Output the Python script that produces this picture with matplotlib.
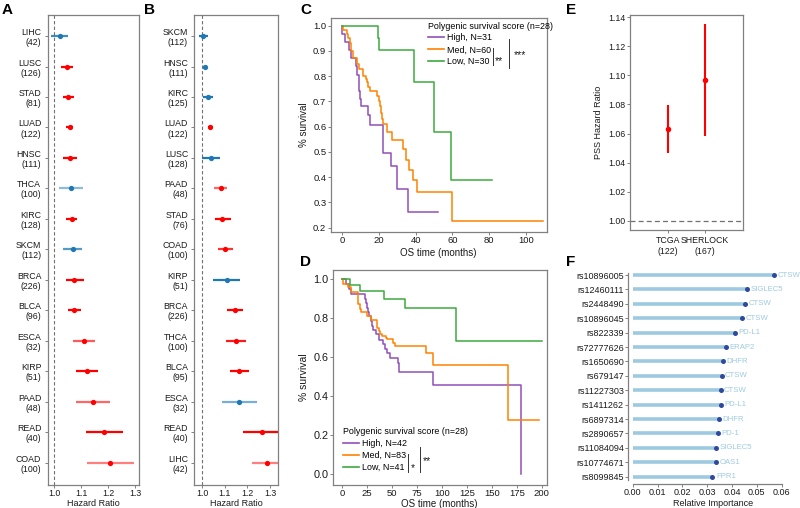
import matplotlib
matplotlib.use('Agg')
import matplotlib.pyplot as plt
from matplotlib.lines import Line2D
import numpy as np

plt.rcParams['font.family'] = ['Liberation Sans', 'DejaVu Sans']

# ---------------- data ----------------
# Panel A
cancers_a = ['LIHC', 'LUSC', 'STAD', 'LUAD', 'HNSC', 'THCA', 'KIRC', 'SKCM',
             'BRCA', 'BLCA', 'ESCA', 'KIRP', 'PAAD', 'READ', 'COAD']
n_a = [42, 126, 81, 122, 111, 100, 128, 112, 226, 96, 32, 51, 48, 40, 100]
hr_a = [1.022, 1.047, 1.053, 1.057, 1.057, 1.063, 1.065, 1.068, 1.075, 1.075,
        1.110, 1.121, 1.143, 1.185, 1.209]
lo_a = [0.989, 1.026, 1.034, 1.044, 1.031, 1.019, 1.044, 1.033, 1.042, 1.053,
        1.069, 1.081, 1.081, 1.119, 1.123]
hi_a = [1.053, 1.071, 1.074, 1.069, 1.084, 1.106, 1.086, 1.102, 1.109, 1.099,
        1.152, 1.162, 1.207, 1.254, 1.296]
sig_a = [False, True, True, True, True, False, True, False, True, True,
         True, True, True, True, True]

# Panel B
cancers_b = ['SKCM', 'HNSC', 'KIRC', 'LUAD', 'LUSC', 'PAAD', 'STAD', 'COAD',
             'KIRP', 'BRCA', 'THCA', 'BLCA', 'ESCA', 'READ', 'LIHC']
n_b = [112, 111, 125, 122, 128, 48, 76, 100, 51, 226, 100, 95, 32, 40, 42]
hr_b = [1.002, 1.013, 1.027, 1.035, 1.037, 1.081, 1.089, 1.102, 1.108, 1.143,
        1.149, 1.162, 1.164, 1.263, 1.285]
lo_b = [0.985, 1.004, 1.004, 1.024, 0.999, 1.052, 1.055, 1.069, 1.049, 1.108,
        1.105, 1.123, 1.087, 1.182, 1.218]
hi_b = [1.024, 1.022, 1.049, 1.049, 1.078, 1.111, 1.126, 1.134, 1.167, 1.179,
        1.193, 1.205, 1.241, 1.345, 1.355]
sig_b = [False, False, False, True, False, True, True, True, False, True,
         True, True, False, True, True]

# Panel C (Kaplan-Meier, step curves)
c_high_t = [0, 0.2, 1.5, 4, 5, 7.5, 8, 9, 9.5, 10, 10.5, 14, 15, 22.5, 26.5, 30, 36, 52]
c_high_s = [1.0, 0.968, 0.935, 0.903, 0.871, 0.839, 0.806, 0.774, 0.742, 0.71,
            0.68, 0.645, 0.605, 0.494, 0.444, 0.352, 0.262, 0.262]
c_med_t = [0, 0.7, 2.5, 3.4, 4.3, 4.9, 5.8, 8.3, 9.4, 11.6, 13, 13.8, 14.3, 15.2,
           19.2, 19.9, 20.7, 21.2, 21.7, 22.5, 24.6, 27.2, 33.3, 34.8, 36.5, 38.4,
           40.5, 60, 109]
c_med_s = [1.0, 0.983, 0.966, 0.95, 0.933, 0.90, 0.87, 0.85, 0.83, 0.80, 0.79,
           0.775, 0.757, 0.74, 0.72, 0.70, 0.68, 0.655, 0.63, 0.61, 0.58, 0.547,
           0.51, 0.47, 0.43, 0.39, 0.34, 0.227, 0.227]
c_low_t = [0, 19.4, 20, 39.3, 49.8, 59, 81.5]
c_low_s = [1.0, 0.95, 0.905, 0.775, 0.58, 0.387, 0.387]
c_labels = ['High, N=31', 'Med, N=60', 'Low, N=30']

# Panel D
d_high_t = [0, 4, 6.7, 8.7, 23, 24, 25.4, 26.4, 27.4, 28.7, 29.7, 31.4, 33.7,
            37.4, 41.4, 43.4, 45.4, 48.1, 56.1, 57.4, 90.8, 179, 179.5]
d_high_s = [1.0, 0.976, 0.952, 0.925, 0.90, 0.88, 0.855, 0.83, 0.81, 0.785,
            0.76, 0.74, 0.72, 0.69, 0.667, 0.64, 0.62, 0.595, 0.57, 0.525, 0.46,
            0.0, 0.0]
d_med_t = [0, 1, 6.3, 8.7, 16.4, 18, 18.7, 25.4, 28.7, 34.7, 35.4, 36.7, 38,
           39.7, 44, 44.7, 51.4, 53, 84.1, 84.8, 91.5, 166.6, 197.7]
d_med_s = [1.0, 0.976, 0.96, 0.935, 0.875, 0.85, 0.83, 0.81, 0.79, 0.77, 0.75,
           0.735, 0.72, 0.71, 0.70, 0.695, 0.675, 0.66, 0.62, 0.62, 0.56, 0.28, 0.28]
d_low_t = [0, 8, 18, 42, 63.4, 113.9, 200.7]
d_low_s = [1.0, 0.97, 0.94, 0.90, 0.855, 0.683, 0.683]
d_labels = ['High, N=42', 'Med, N=83', 'Low, N=41']

# Panel E
cohorts_e = ['TCGA\n(122)', 'SHERLOCK\n(167)']
hr_e = [1.063, 1.0966]
lo_e = [1.0464, 1.0583]
hi_e = [1.0796, 1.1352]

# Panel F
snps_f = ['rs10896005', 'rs12460111', 'rs2448490', 'rs10896045', 'rs822339',
          'rs72777626', 'rs1650690', 'rs679147', 'rs11227303', 'rs1411262',
          'rs6897314', 'rs2890657', 'rs11084094', 'rs10774671', 'rs8099845']
genes_f = ['CTSW', 'SIGLEC5', 'CTSW', 'CTSW', 'PD-L1', 'ERAP2', 'DHFR', 'CTSW',
           'CTSW', 'PD-L1', 'DHFR', 'PD-1', 'SIGLEC5', 'OAS1', 'FPR1']
imp_f = [0.0570, 0.0460, 0.0454, 0.0442, 0.0413, 0.0374, 0.0365, 0.0358,
         0.0354, 0.0354, 0.0346, 0.0345, 0.0337, 0.0336, 0.0321]

# ---------------- styling ----------------
W, H = 800, 508
fig = plt.figure(figsize=(8, 5.08), dpi=100)

SPINE = '#808080'
TXT = '#1a1a1a'
RED = '#FF0000'
BLUE = '#1F78B4'
PURPLE = '#9050B8'
ORANGE = '#FF8200'
GREEN = '#3DAA3D'


def axpx(l, t, r, b):
    return fig.add_axes([l / W, 1 - b / H, (r - l) / W, (b - t) / H])


def style(ax, fs=6.5):
    for s in ax.spines.values():
        s.set_color(SPINE)
        s.set_linewidth(0.9)
    ax.tick_params(colors=SPINE, labelcolor=TXT, labelsize=fs, length=2,
                   width=0.7, pad=1.2)


def forest(ax, names, ns, hr, lo, hi, sig, alphas, xlim):
    y = np.arange(len(names))
    ax.axvline(1.0, color='#707070', lw=0.8, ls=(0, (3, 2)), zorder=1)
    for i in range(len(names)):
        c = RED if sig[i] else BLUE
        ax.hlines(y[i], lo[i], hi[i], color=c, alpha=alphas[i], lw=1.6, zorder=2)
        ax.plot(hr[i], y[i], 'o', color=c, ms=3.8, mec='none', zorder=3)
    ax.set_yticks(y)
    ax.set_yticklabels([f'{a}\n({b})' for a, b in zip(names, ns)],
                       linespacing=1.15)
    ax.set_ylim(14.73, -0.69)
    ax.set_xlim(*xlim)
    ax.set_xticks([1.0, 1.1, 1.2, 1.3])
    ax.set_xticklabels(['1.0', '1.1', '1.2', '1.3'])
    style(ax, 6.3)
    ax.set_xlabel('Hazard Ratio', fontsize=6.5, color=TXT, labelpad=0.5)
    ax.tick_params(axis='y', labelsize=6.3, pad=2.5)


alpha_a = [0.85, 1, 1, 1, 1, 0.5, 1, 0.75, 1, 1, 0.65, 1, 0.6, 1, 0.5]
alpha_b = [1, 1, 1, 1, 1, 0.6, 1, 0.8, 1, 1, 0.9, 1, 0.6, 1, 0.5]

axA = axpx(47.5, 15, 139, 485)
forest(axA, cancers_a, n_a, hr_a, lo_a, hi_a, sig_a, alpha_a, (0.975, 1.315))
axB = axpx(194.3, 15, 278, 485)
forest(axB, cancers_b, n_b, hr_b, lo_b, hi_b, sig_b, alpha_b, (0.965, 1.335))


def km(ax, curves, colors):
    for (t, s), c in zip(curves, colors):
        ax.step(t, s, where='post', color=c, lw=1.1)


def legend_km(ax, labels, anchor, brackets, stars):
    handles = [Line2D([0], [0], color=c, lw=1.2) for c in (PURPLE, ORANGE, GREEN)]
    ax.legend(handles, labels, title='Polygenic survival score (n=28)',
              loc='upper left', bbox_to_anchor=anchor, frameon=False,
              fontsize=6.4, title_fontsize=6.4, handlelength=1.8,
              handletextpad=0.35, labelspacing=0.33, borderpad=0,
              borderaxespad=0, alignment='left')
    for (x, y0, y1) in brackets:
        ax.plot([x, x], [y0, y1], color='#333333', lw=0.7, transform=ax.transAxes,
                clip_on=False)
    for (x, y, s) in stars:
        ax.text(x, y, s, transform=ax.transAxes, fontsize=7.5, color=TXT,
                ha='left', va='center')


# Panel C
axC = axpx(330.7, 18.3, 546.7, 232)
km(axC, [(c_high_t, c_high_s), (c_med_t, c_med_s), (c_low_t, c_low_s)],
   [PURPLE, ORANGE, GREEN])
axC.set_xlim(-6.1, 111.2)
axC.set_ylim(0.183, 1.029)
axC.set_xticks([0, 20, 40, 60, 80, 100])
axC.set_yticks([0.2, 0.3, 0.4, 0.5, 0.6, 0.7, 0.8, 0.9, 1.0])
axC.set_yticklabels([f'{v:.1f}' for v in axC.get_yticks()])
style(axC, 6.8)
axC.set_xlabel('OS time (months)', fontsize=7, color=TXT, labelpad=1.5)
axC.set_ylabel('% survival', fontsize=7, color=TXT, labelpad=3)
legend_km(axC, c_labels, (0.449, 0.985),
          [(0.75, 0.861, 0.781), (0.824, 0.903, 0.767)],
          [(0.762, 0.800, '**'), (0.846, 0.830, '***')])

# Panel D
axD = axpx(332.7, 270, 546.7, 485)
km(axD, [(d_high_t, d_high_s), (d_med_t, d_med_s), (d_low_t, d_low_s)],
   [PURPLE, ORANGE, GREEN])
axD.set_xlim(-9.3, 205)
axD.set_ylim(-0.056, 1.048)
axD.set_xticks([0, 25, 50, 75, 100, 125, 150, 175, 200])
axD.set_yticks([0.0, 0.2, 0.4, 0.6, 0.8, 1.0])
axD.set_yticklabels([f'{v:.1f}' for v in axD.get_yticks()])
style(axD, 6.8)
axD.tick_params(axis='y', labelsize=7.8)
axD.set_xlabel('OS time (months)', fontsize=7, color=TXT, labelpad=0.5)
axD.set_ylabel('% survival', fontsize=7.5, color=TXT, labelpad=3)
legend_km(axD, d_labels, (0.0495, 0.27),
          [(0.353, 0.144, 0.062), (0.408, 0.178, 0.062)],
          [(0.364, 0.080, '*'), (0.421, 0.110, '**')])

# Panel E
axE = axpx(630, 15, 742.7, 230)
xe = np.arange(1, len(cohorts_e) + 1)
axE.axhline(1.0, color='#707070', lw=0.9, ls=(0, (4, 2.5)))
for i in range(len(xe)):
    axE.vlines(xe[i], lo_e[i], hi_e[i], color=RED, lw=1.5)
    axE.plot(xe[i], hr_e[i], 'o', color=RED, ms=4, mec='none')
axE.set_xlim(0, 3)
axE.set_ylim(0.9936, 1.1416)
axE.set_xticks(xe)
axE.set_xticklabels(cohorts_e, linespacing=1.2)
axE.set_yticks(np.arange(1.0, 1.141, 0.02))
axE.set_yticklabels([f'{v:.2f}' for v in np.arange(1.0, 1.141, 0.02)])
style(axE, 6.3)
axE.set_ylabel('PSS Hazard Ratio', fontsize=6.5, color=TXT, labelpad=4)
axE.tick_params(axis='x', pad=2.5)

# Panel F
axF = axpx(628.3, 267.8, 797.8, 483.9)
yf = np.arange(len(snps_f))
axF.hlines(yf, 0, imp_f, color='#9ECAE1', lw=2.6)
axF.plot(imp_f, yf, 'o', color='#2E4A9E', ms=3.6, mec='none')
for i in range(len(yf)):
    axF.annotate(genes_f[i], (imp_f[i], yf[i]), xytext=(2.5, 0),
                 textcoords='offset points', va='center', ha='left',
                 fontsize=5.6, color='#9ECAE1', annotation_clip=False)
axF.set_ylim(14.5, -0.5)
axF.set_xlim(-0.0018, 0.0665)
axF.set_yticks(yf)
axF.set_yticklabels(snps_f)
axF.set_xticks([0, 0.01, 0.02, 0.03, 0.04, 0.05, 0.06])
axF.set_xticklabels(['0.00', '0.01', '0.02', '0.03', '0.04', '0.05', '0.06'])
style(axF, 6.5)
axF.set_xlabel('Relative Importance', fontsize=6.5, color=TXT, labelpad=1.5)
axF.spines['top'].set_visible(False)
axF.spines['right'].set_visible(False)
axF.spines['left'].set_bounds(-0.15, 14.25)
axF.spines['bottom'].set_bounds(0, 0.06)

# Panel letters
for lab, x, y in [('A', 2, 10), ('B', 144, 10), ('C', 300, 10), ('E', 566, 10),
                  ('D', 300, 262), ('F', 566, 262)]:
    fig.text(x / W, 1 - y / H, lab, fontsize=11, fontweight='bold', va='center',
             ha='left', color='black')

fig.savefig('out.png', dpi=100)
